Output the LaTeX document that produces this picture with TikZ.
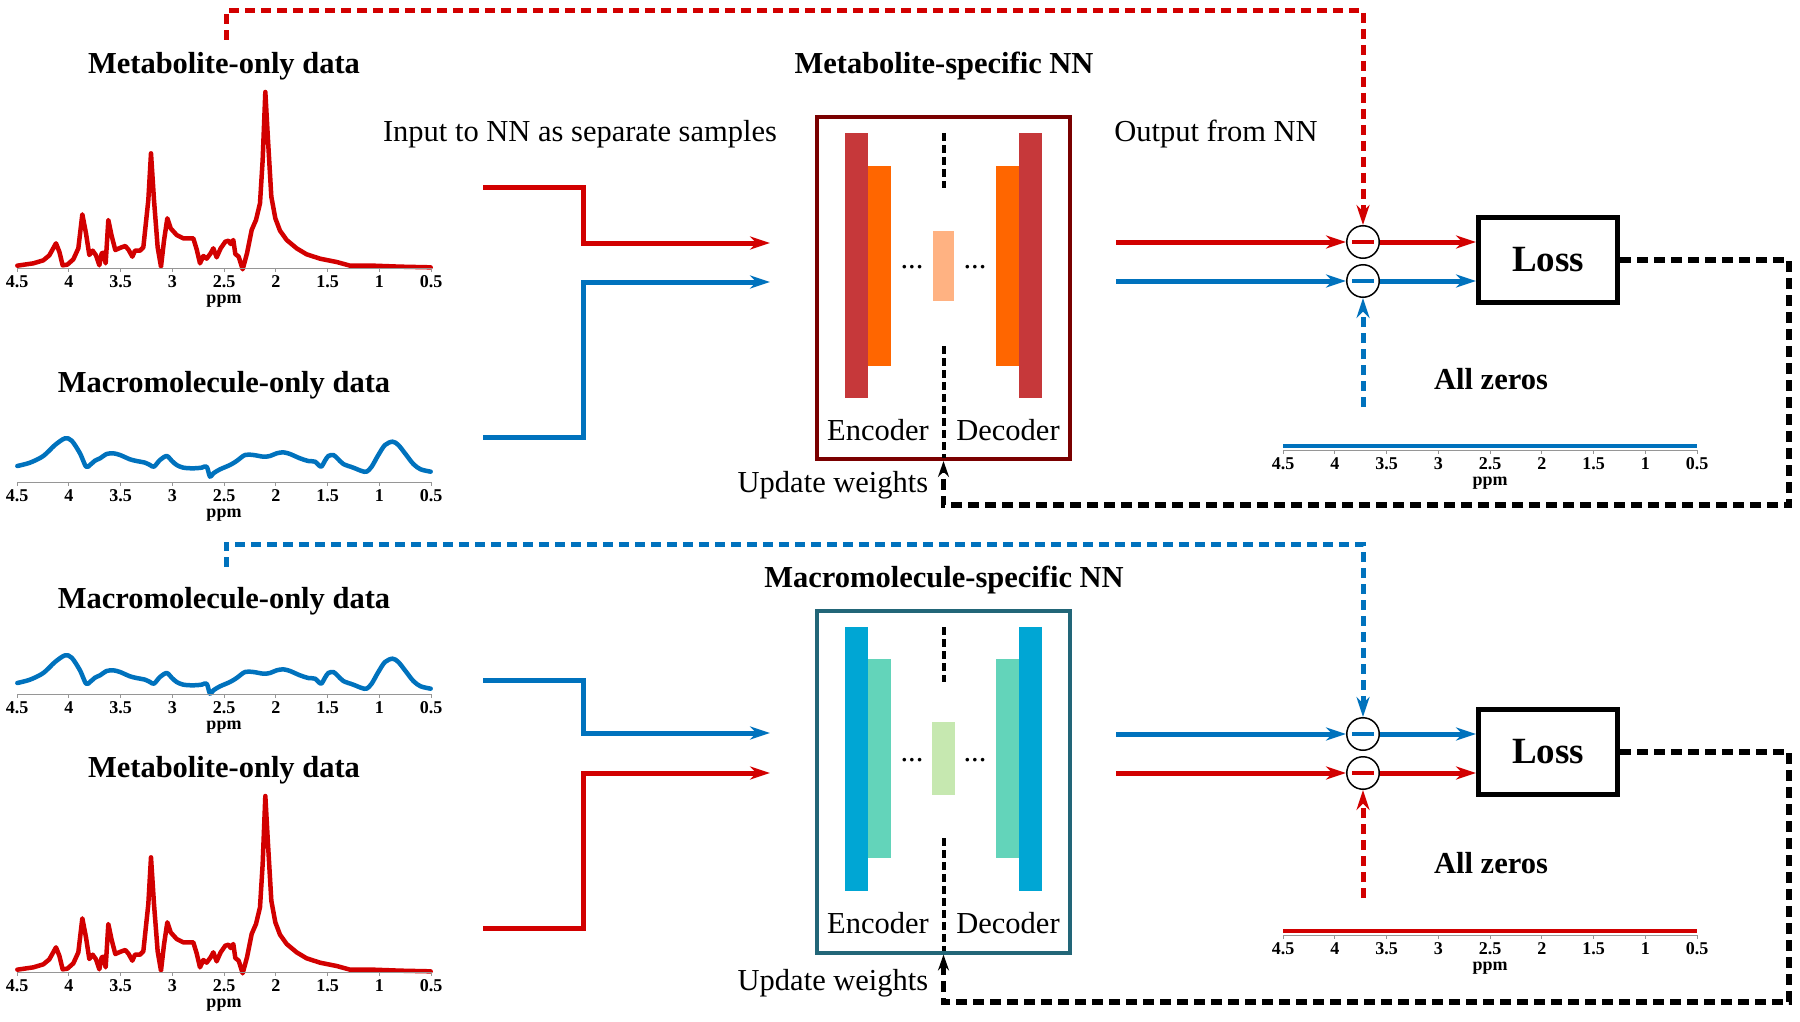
\documentclass[tikz,border=0pt]{standalone}
\usepackage{fontspec}
\setmainfont{Liberation Serif}
\usepackage{tikz}
\usetikzlibrary{arrows.meta, calc, positioning}

\definecolor{specred}{RGB}{210,0,0}
\definecolor{specblue}{RGB}{0,114,189}
\definecolor{metframe}{RGB}{122,0,0}
\definecolor{metouter}{RGB}{198,56,58}
\definecolor{metinner}{RGB}{255,102,0}
\definecolor{metcode}{RGB}{255,178,130}
\definecolor{macframe}{RGB}{34,102,120}
\definecolor{macouter}{RGB}{0,166,212}
\definecolor{macinner}{RGB}{99,212,186}
\definecolor{maccode}{RGB}{198,232,176}
\definecolor{axisgray}{RGB}{150,150,150}

% metabolite spectrum, #1 = vertical shift
\newcommand{\metabspec}[1]{%
  \begin{scope}[shift={(0,#1)}, scale=1/3]
  \draw[spec, specred] (52,797) -- (100,790) -- (130,781) -- (148,766) -- (168,730) -- (178,755)
    -- (188,796) -- (202,794) -- (220,778) -- (235,745) -- (247,643) -- (258,700) -- (268,765)
    -- (278,752) -- (288,766) -- (298,796) -- (305,760) -- (311,758) -- (317,790) -- (325,660)
    -- (335,708) -- (346,750) -- (362,743) -- (376,738) -- (386,750) -- (397,770) -- (405,752)
    -- (420,752) -- (430,742) -- (445,600) -- (453,460) -- (462,600) -- (473,742) -- (483,800)
    -- (492,722) -- (502,655) -- (512,685) -- (530,705) -- (550,715) -- (580,715) -- (590,748)
    -- (600,790) -- (610,768) -- (620,776) -- (632,760) -- (640,745) -- (650,772) -- (662,745)
    -- (676,725) -- (686,722) -- (692,732) -- (700,720) -- (706,762) -- (716,770) -- (728,808)
    -- (741,760) -- (755,690) -- (768,660) -- (780,610) -- (788,480) -- (796,276) -- (804,420)
    -- (814,590) -- (826,655) -- (840,692) -- (860,720) -- (890,745) -- (920,763) -- (960,776)
    -- (1010,786) -- (1050,797) -- (1120,797) -- (1200,800) -- (1292,802);
  \end{scope}}

% macromolecule spectrum, #1 = vertical shift
\newcommand{\macrospec}[1]{%
  \begin{scope}[shift={(0,#1)}, scale=1/3]
  \draw[spec, specblue] plot[smooth, tension=0.5] coordinates {(52,408) (90,398) (130,378)
    (165,345) (195,325) (215,332) (240,370) (258,410) (270,405) (285,392) (300,385) (320,372)
    (340,370) (360,375) (390,388) (410,393) (435,398) (450,405) (462,410) (480,390) (500,378)
    (515,392) (530,405) (550,413) (580,415) (605,413) (620,410) (630,440) (640,430) (660,418)
    (690,405) (710,393) (735,375) (760,375) (790,380) (810,378) (830,370) (850,367) (870,372)
    (900,385) (925,393) (945,395) (963,410) (975,392) (985,378) (1000,375) (1012,385)
    (1030,402) (1060,413) (1085,423) (1100,425) (1115,410) (1135,375) (1155,345) (1178,335)
    (1195,345) (1215,370) (1240,402) (1262,418) (1292,425)};
  \end{scope}}

% ppm axis: #1 left x, #2 right x, #3 axis y, #4 name prefix
\newcommand{\ppmaxis}[4]{%
  \draw[axisline] (#1,#3) -- (#2,#3);
  \foreach \i/\l in {0/4.5,1/4,2/3.5,3/3,4/2.5,5/2,6/1.5,7/1,8/0.5}{
    \draw[axisline] ({#1+\i*(#2-#1)/8},#3) -- ++(0,4);
    \node[ticklab] (#4t\i) at ({#1+\i*(#2-#1)/8},#3+19) {\l};
  }
  \node[ticklab] (#4ppm) at ({(#1+#2)/2},#3+35) {ppm};
}

\begin{document}
\begin{tikzpicture}[x=1pt, y=-1pt, >={Stealth[length=20pt, width=13pt]},
    lbl/.style={font=\fontsize{30.5}{36}\selectfont, inner sep=0pt, anchor=base},
    ttl/.style={lbl, font=\fontsize{30.5}{36}\selectfont\bfseries},
    ticklab/.style={font=\fontsize{18}{20}\selectfont\bfseries, inner sep=0pt, anchor=base},
    axisline/.style={draw=axisgray, line width=0.8pt},
    spec/.style={line width=4.5pt, line join=round, line cap=round},
    flow/.style={line width=5pt},
    flowdash/.style={line width=5pt, dash pattern=on 10pt off 6pt},
    fbdash/.style={line width=5.5pt, dash pattern=on 11pt off 6pt,
      -{Stealth[length=16pt, width=11pt]}},
    nnbox/.style={draw, line width=4pt, minimum width=253pt, minimum height=342pt, inner sep=0pt},
    sub/.style={draw, circle, line width=1.5pt, minimum size=32.5pt, inner sep=0pt},
    lossbox/.style={draw, line width=5pt, minimum width=139pt, minimum height=85pt,
      font=\fontsize{37}{40}\selectfont\bfseries},
    divider/.style={line width=4pt, dash pattern=on 8pt off 4pt}]
\useasboundingbox (0,0) rectangle (1800,1022);
%%
% Data: metabolite / macromolecule (top)
\node[ttl] (met1title) at (224,74) {Metabolite-only data};
\metabspec{0}
\ppmaxis{17}{431}{268}{ax1}
\node[ttl] (mac1title) at (224,392) {Macromolecule-only data};
\macrospec{330}
\ppmaxis{17}{431}{482}{ax2}
\node[lbl] (intext) at (580,142) {Input to NN as separate samples};
\node[lbl] (outtext) at (1216,142) {Output from NN};
% Node: nn1
\node[nnbox, draw=metframe] (nn1) at (943.5,288) {};
\node[ttl] (nn1title) at (944,74) {Metabolite-specific NN};
\fill[metouter] (845,133) rectangle (868,398);
\fill[metinner] (868,166) rectangle (891,366);
\fill[metcode] (933,231) rectangle (954,301);
\fill[metinner] (996,166) rectangle (1019,366);
\fill[metouter] (1019,133) rectangle (1042,398);
\draw[divider] (943.5,133) -- (943.5,188);
\draw[divider] (943.5,346) -- (943.5,458);
\node[lbl] (dots1a) at (912,268) {...};
\node[lbl] (dots1b) at (975,268) {...};
\node[lbl] (enc1) at (878,440) {Encoder};
\node[lbl] (dec1) at (1008,440) {Decoder};
\node[lbl] (upd1) at (833,492) {Update weights};
% Node: sub1a, sub1b, loss1
\node[sub] (sub1a) at (1363,242) {};
\node[sub] (sub1b) at (1363,281) {};
\node[lossbox] (loss1) at (1548,260) {Loss};
\node[ttl] (zero1title) at (1491,389) {All zeros};
\draw[spec, specblue, line cap=butt] (1283,446) -- (1697,446);
\ppmaxis{1283}{1697}{450}{ax3}
% Edge: inputs -> nn1
\coordinate (in1r) at (483,188);
\coordinate (in1rend) at (770,243);
\coordinate (in1b) at (483,437);
\coordinate (in1bend) at (770,282);
\draw[flow, specred, ->] (in1r) -- ++(100,0) |- (in1rend);
\draw[flow, specblue, ->] (in1b) -- ++(100,0) |- (in1bend);
% Edge: nn1 -> sub1 -> loss1
\coordinate (out1r) at (1116,242);
\coordinate (out1b) at (1116,281);
\draw[flow, specred, ->] (out1r) -- (sub1a);
\draw[flow, specblue, ->] (out1b) -- (sub1b);
\draw[flow, specred, ->] (sub1a) -- (sub1a -| loss1.west);
\draw[flow, specblue, ->] (sub1b) -- (sub1b -| loss1.west);
\draw[specred, line width=4pt] ([xshift=-11pt]sub1a.center) -- ([xshift=11pt]sub1a.center);
\draw[specblue, line width=4pt] ([xshift=-11pt]sub1b.center) -- ([xshift=11pt]sub1b.center);
% Edge: targets -> sub1
\coordinate (rd1) at (226,40);
\coordinate (bd1) at (1363,407);
\draw[flowdash, specred, ->] (rd1) -- ++(0,-29) -| (sub1a);
\draw[flowdash, specblue, ->] (bd1) -- (sub1b);
% Edge: loss1 -> nn1
\coordinate (fb1) at (1789,505);
\draw[fbdash] (loss1.east) -| (fb1) -| (nn1.south);
%%
% Data: macromolecule / metabolite (bottom)
\node[ttl] (mac2title) at (224,608) {Macromolecule-only data};
\macrospec{547}
\ppmaxis{17}{431}{694}{ax4}
\node[ttl] (met2title) at (224,777) {Metabolite-only data};
\metabspec{704}
\ppmaxis{17}{431}{972}{ax5}
% Node: nn2
\node[nnbox, draw=macframe] (nn2) at (943.5,781.5) {};
\node[ttl] (nn2title) at (944,587) {Macromolecule-specific NN};
\fill[macouter] (845,627) rectangle (868,891);
\fill[macinner] (868,659) rectangle (891,858);
\fill[maccode] (932,722) rectangle (955,795);
\fill[macinner] (996,659) rectangle (1019,858);
\fill[macouter] (1019,627) rectangle (1042,891);
\draw[divider] (943.5,627) -- (943.5,682);
\draw[divider] (943.5,838) -- (943.5,951);
\node[lbl] (dots2a) at (912,761) {...};
\node[lbl] (dots2b) at (975,761) {...};
\node[lbl] (enc2) at (878,933) {Encoder};
\node[lbl] (dec2) at (1008,933) {Decoder};
\node[lbl] (upd2) at (833,990) {Update weights};
% Node: sub2a, sub2b, loss2
\node[sub] (sub2a) at (1363,734) {};
\node[sub] (sub2b) at (1363,773) {};
\node[lossbox] (loss2) at (1548,752) {Loss};
\node[ttl] (zero2title) at (1491,873) {All zeros};
\draw[spec, specred, line cap=butt] (1283,931) -- (1697,931);
\ppmaxis{1283}{1697}{935}{ax6}
% Edge: inputs -> nn2
\coordinate (in2b) at (483,680);
\coordinate (in2bend) at (770,733);
\coordinate (in2r) at (483,928);
\coordinate (in2rend) at (770,773);
\draw[flow, specblue, ->] (in2b) -- ++(100,0) |- (in2bend);
\draw[flow, specred, ->] (in2r) -- ++(100,0) |- (in2rend);
% Edge: nn2 -> sub2 -> loss2
\coordinate (out2b) at (1116,734);
\coordinate (out2r) at (1116,773);
\draw[flow, specblue, ->] (out2b) -- (sub2a);
\draw[flow, specred, ->] (out2r) -- (sub2b);
\draw[flow, specblue, ->] (sub2a) -- (sub2a -| loss2.west);
\draw[flow, specred, ->] (sub2b) -- (sub2b -| loss2.west);
\draw[specblue, line width=4pt] ([xshift=-11pt]sub2a.center) -- ([xshift=11pt]sub2a.center);
\draw[specred, line width=4pt] ([xshift=-11pt]sub2b.center) -- ([xshift=11pt]sub2b.center);
% Edge: targets -> sub2
\coordinate (bd2) at (226,567);
\coordinate (rd2) at (1363,898);
\draw[flowdash, specblue, ->] (bd2) -- ++(0,-23) -| (sub2a);
\draw[flowdash, specred, ->] (rd2) -- (sub2b);
% Edge: loss2 -> nn2
\coordinate (fb2) at (1789,1002);
\draw[fbdash] (loss2.east) -| (fb2) -| (nn2.south);
%
\end{tikzpicture}
\end{document}
